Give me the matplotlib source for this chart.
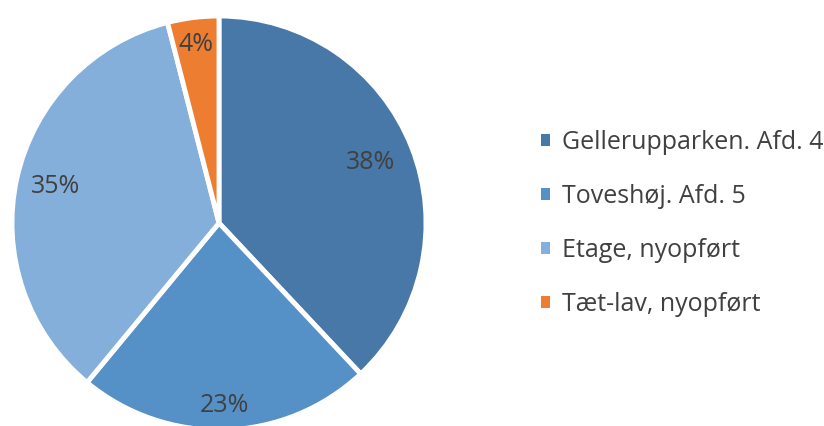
import matplotlib
matplotlib.use("Agg")
import matplotlib.pyplot as plt
import numpy as np
from matplotlib.patches import Patch

categories = ["Gellerupparken. Afd. 4", "Toveshøj. Afd. 5", "Etage, nyopført", "Tæt-lav, nyopført"]
values = [38, 23, 35, 4]
labels = ["38%", "23%", "35%", "4%"]
colors = ["#4878a8", "#5591c7", "#85afdb", "#ed7d31"]
label_dist = [0.79, 0.88, 0.81, 0.87]

plt.rcParams['font.family'] = ['Open Sans', 'DejaVu Sans']

W, H = 824, 426
fig = plt.figure(figsize=(W/100, H/100), dpi=100)
cx, cy, r = 219, 223, 207
ax = fig.add_axes([(cx - r)/W, (H - cy - r)/H, 2*r/W, 2*r/H])
wedges, _ = ax.pie(values, colors=colors, startangle=90, counterclock=False,
                   radius=1, wedgeprops=dict(edgecolor="white", linewidth=3.5))
for w, lab, d in zip(wedges, labels, label_dist):
    ang = np.deg2rad((w.theta1 + w.theta2) / 2)
    ax.text(d*np.cos(ang), d*np.sin(ang), lab, ha="center", va="center",
            fontsize=18, color="#404040")
ax.set_xlim(-1, 1)
ax.set_ylim(-1, 1)
ax.set_aspect("equal")
ax.axis("off")

handles = [Patch(facecolor=c, edgecolor="none") for c in colors]
fig.legend(handles, categories, loc="center left", bbox_to_anchor=(518/W, 0.475),
           frameon=False, fontsize=18, labelcolor="#404040", handlelength=0.36,
           handleheight=0.36, handletextpad=0.5, labelspacing=1.16)
fig.savefig("out.png", dpi=100)
